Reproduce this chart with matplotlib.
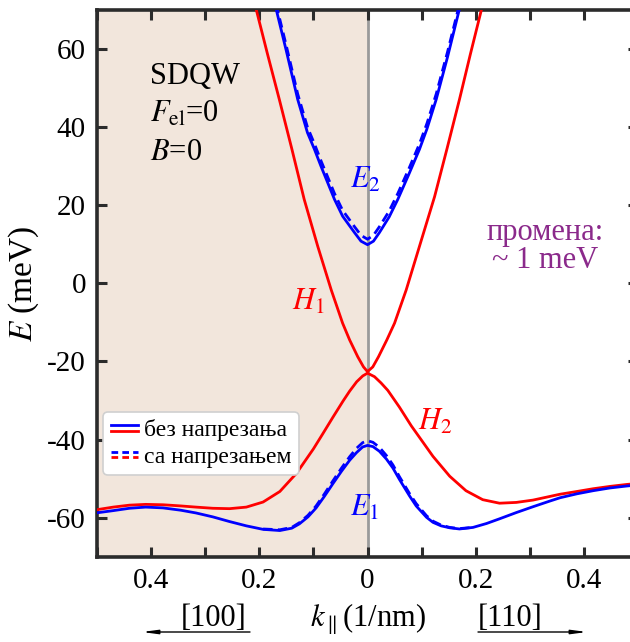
import matplotlib
matplotlib.use("Agg")
import matplotlib.pyplot as plt
from matplotlib.lines import Line2D
from matplotlib.legend_handler import HandlerBase
from matplotlib.ticker import FixedLocator, FuncFormatter

plt.rcParams['font.family'] = ['Liberation Serif', 'DejaVu Serif']
plt.rcParams['mathtext.fontset'] = 'stix'
plt.rcParams['axes.unicode_minus'] = False

# ---------------- data ----------------
k_H1 = [-0.206, -0.185, -0.163, -0.140, -0.117, -0.092, -0.067, -0.046, -0.033, -0.018, -0.0074, 0.0,
        0.0098, 0.0203, 0.0357, 0.050, 0.0715, 0.095, 0.124, 0.147, 0.170, 0.190, 0.211]
E_H1 = [70.3, 58.8, 47.1, 34.5, 21.5, 9.5, -1.7, -10.2, -14.5, -18.8, -21.4, -22.6,
        -21.4, -18.8, -14.5, -10.2, -1.7, 9.0, 22.2, 34.5, 47.1, 58.6, 70.3]

k_E2 = [-0.169, -0.150, -0.129, -0.111, -0.098, -0.086, -0.061, -0.046, -0.024, -0.012, 0.0,
        0.011, 0.022, 0.040, 0.056, 0.076, 0.096, 0.110, 0.127, 0.148, 0.170]
E_E2 = [70.3, 59.5, 47.1, 38.6, 34.3, 30.0, 21.5, 17.2, 13.0, 10.8, 9.9,
        10.8, 13.0, 17.0, 21.5, 27.8, 34.3, 39.6, 47.1, 58.0, 70.3]
E_E2_strain = [71.5, 60.8, 48.5, 40.0, 35.7, 31.4, 23.0, 18.7, 14.5, 12.3, 11.3,
               12.3, 14.5, 18.5, 23.0, 29.2, 35.7, 41.0, 48.5, 59.3, 71.5]

k_H2 = [-0.502, -0.470, -0.440, -0.410, -0.378, -0.345, -0.317, -0.286, -0.255, -0.224, -0.193,
        -0.162, -0.131, -0.100, -0.083, -0.064, -0.045, -0.033, -0.020, -0.0087, 0.0,
        0.0129, 0.025, 0.0375, 0.059, 0.081, 0.100, 0.121, 0.152, 0.182, 0.213, 0.244, 0.275,
        0.306, 0.336, 0.356, 0.387, 0.417, 0.448, 0.479, 0.502]
E_H2 = [-58.0, -57.3, -56.8, -56.6, -56.7, -57.0, -57.3, -57.6, -57.7, -57.3, -56.0,
        -53.3, -48.6, -42.4, -38.6, -34.3, -30.1, -27.6, -25.2, -23.7, -23.0,
        -23.9, -25.5, -27.4, -31.7, -36.5, -40.2, -44.3, -49.4, -53.1, -55.4, -56.3, -56.1,
        -55.5, -54.6, -54.0, -53.3, -52.6, -52.0, -51.5, -51.2]

k_E1 = [-0.502, -0.470, -0.440, -0.410, -0.378, -0.345, -0.317, -0.286, -0.255, -0.224, -0.193,
        -0.162, -0.140, -0.126, -0.110, -0.095, -0.080, -0.064, -0.048, -0.033, -0.020, -0.009, 0.0,
        0.010, 0.022, 0.035, 0.047, 0.059, 0.078, 0.090, 0.109, 0.121, 0.136, 0.152, 0.170,
        0.195, 0.220, 0.244, 0.275, 0.306, 0.336, 0.356, 0.387, 0.417, 0.448, 0.479, 0.502]
E_E1 = [-58.8, -58.2, -57.6, -57.3, -57.5, -58.1, -58.8, -59.8, -61.0, -62.1, -63.0,
        -63.3, -62.7, -61.6, -59.8, -57.5, -54.6, -51.3, -48.1, -45.3, -43.3, -41.9, -41.5,
        -41.8, -43.0, -45.0, -47.3, -50.2, -54.5, -57.0, -59.9, -61.2, -62.1, -62.6, -62.9,
        -62.5, -61.5, -60.3, -58.7, -57.2, -55.8, -54.9, -53.9, -53.1, -52.4, -51.9, -51.6]

k_E1_strain = [-0.193, -0.162, -0.140, -0.126, -0.110, -0.095, -0.080, -0.064, -0.048, -0.033, -0.020,
               -0.009, 0.0, 0.010, 0.022, 0.035, 0.047, 0.059, 0.078, 0.090, 0.109, 0.121, 0.136,
               0.152, 0.170, 0.195]
E_E1_strain = [-62.9, -63.1, -62.5, -61.3, -59.4, -57.0, -54.0, -50.6, -47.3, -44.4, -42.2,
               -40.8, -40.3, -40.7, -42.0, -44.1, -46.5, -49.5, -53.9, -56.4, -59.5, -60.9, -61.9,
               -62.5, -62.8, -62.5]

x_ticks = [-0.5, -0.4, -0.3, -0.2, -0.1, 0.0, 0.1, 0.2, 0.3, 0.4, 0.5]
x_labeled = [-0.4, -0.2, 0.0, 0.2, 0.4]
y_ticks = [-60, -40, -20, 0, 20, 40, 60]
legend_labels = ['без напрезања', 'са напрезањем']

BLUE = '#0000ff'
RED = '#ff0000'
PURPLE = '#8b2a8b'
SHADE = '#f2e6dc'
SPINE = '#2b2b2b'

# ---------------- figure ----------------
fig = plt.figure(figsize=(6.30, 6.42), dpi=100)
ax = fig.add_axes([97/630, 85.3/642, 541/630, 546.7/642])
ax.set_xlim(-0.5, 0.5)
ax.set_ylim(-70, 70)

ax.axvspan(-0.5, 0.0, color=SHADE, zorder=0, lw=0)
ax.axvline(0.0, color='#9a9a9a', lw=2.0, zorder=1)

lw = 2.0
dash = (3.4, 1.9)
ax.plot(k_H1, E_H1, color=RED, lw=lw, zorder=3, solid_joinstyle='round')
ax.plot(k_H2, E_H2, color=RED, lw=lw, zorder=3, solid_joinstyle='round')
ax.plot(k_E1, E_E1, color=BLUE, lw=lw, zorder=4, solid_joinstyle='round')
ax.plot(k_E2, E_E2, color=BLUE, lw=lw, zorder=4, solid_joinstyle='round')
ax.plot(k_E2, E_E2_strain, color=BLUE, lw=lw, ls=(0, dash), zorder=5)
ax.plot(k_E1_strain, E_E1_strain, color=BLUE, lw=lw, ls=(0, dash), zorder=5)

# ticks / spines
for s in ax.spines.values():
    s.set_linewidth(2.6)
    s.set_color(SPINE)
ax.xaxis.set_major_locator(FixedLocator(x_ticks))
ax.xaxis.set_major_formatter(FuncFormatter(
    lambda v, p: ('0' if abs(v) < 1e-9 else f'{abs(v):.1f}') if any(abs(v - t) < 1e-9 for t in x_labeled) else ''))
ax.yaxis.set_major_locator(FixedLocator(y_ticks))
ax.tick_params(axis='both', which='both', direction='in', length=7, width=2.2, color=SPINE,
               top=True, right=True, labelsize=21, pad=8)

# axis labels
ax.set_ylabel(r'$E$ (meV)', fontsize=24, labelpad=4)
fig.text(368/630, 1 - 627/642, r'$k_{\parallel}$(1/nm)', fontsize=22, ha='center', va='baseline')

# direction markers
fig.text(214/630, 1 - 626/642, '[100]', fontsize=22, ha='center', va='baseline')
fig.text(510/630, 1 - 626/642, '[110]', fontsize=22, ha='center', va='baseline')
ap = dict(arrowstyle='-|>,head_length=0.9,head_width=0.12', color='black', lw=1.0, shrinkA=0, shrinkB=0)
fig.add_artist(plt.Annotation('', xy=(142/630, 1 - 632/642), xytext=(250/630, 1 - 632/642),
                              xycoords='figure fraction', textcoords='figure fraction', arrowprops=ap))
fig.add_artist(plt.Annotation('', xy=(587/630, 1 - 632/642), xytext=(478/630, 1 - 632/642),
                              xycoords='figure fraction', textcoords='figure fraction', arrowprops=ap))

# annotations inside the axes
ax.text(-0.402, 51.0, 'SDQW', fontsize=22, ha='left', va='baseline')
ax.text(-0.402, 42.8 - 1.5, r'$F_{\mathrm{el}}$=0', fontsize=22, ha='left', va='baseline')
ax.text(-0.402, 31.7, r'$B$=0', fontsize=22, ha='left', va='baseline')

ax.text(-0.033, 24.5, r'$E_2$', color=BLUE, fontsize=22, ha='left', va='baseline')
ax.text(-0.139, -6.8, r'$H_1$', color=RED, fontsize=22, ha='left', va='baseline')
ax.text(0.093, -37.4, r'$H_2$', color=RED, fontsize=22, ha='left', va='baseline')
ax.text(-0.033, -59.5, r'$E_1$', color=BLUE, fontsize=22, ha='left', va='baseline')

ax.text(545/630, 1 - 240/642, 'промена:', transform=fig.transFigure, color=PURPLE,
        fontsize=22, ha='center', va='baseline')
ax.text(545/630, 1 - 268/642, '~ 1 meV', transform=fig.transFigure, color=PURPLE,
        fontsize=22, ha='center', va='baseline')


# legend with stacked blue/red handles
class StackHandler(HandlerBase):
    def create_artists(self, legend, orig_handle, xdescent, ydescent, width, height, fontsize, trans):
        y0 = height / 2 - ydescent
        d = height * 0.16
        arts = []
        for dy, col in ((d, BLUE), (-d, RED)):
            ln = Line2D([-xdescent, -xdescent + width], [y0 + dy, y0 + dy], color=col, lw=2.0,
                        linestyle=orig_handle.get_linestyle())
            if orig_handle.get_linestyle() != '-':
                ln.set_dashes((2.4, 1.5))
            ln.set_transform(trans)
            arts.append(ln)
        return arts


h_solid = Line2D([], [], ls='-')
h_dash = Line2D([], [], ls='--')
leg = ax.legend([h_solid, h_dash], legend_labels,
                handler_map={h_solid: StackHandler(), h_dash: StackHandler()},
                loc='upper left', bbox_to_anchor=(0.012, 0.265), borderaxespad=0,
                fontsize=17, handlelength=1.15, handletextpad=0.25, labelspacing=0.2,
                borderpad=0.32, frameon=True, fancybox=True, framealpha=1)
leg.get_frame().set_edgecolor('#d0d0d0')
leg.get_frame().set_linewidth(1.2)
leg.set_zorder(10)

fig.savefig('out.png', dpi=100)
